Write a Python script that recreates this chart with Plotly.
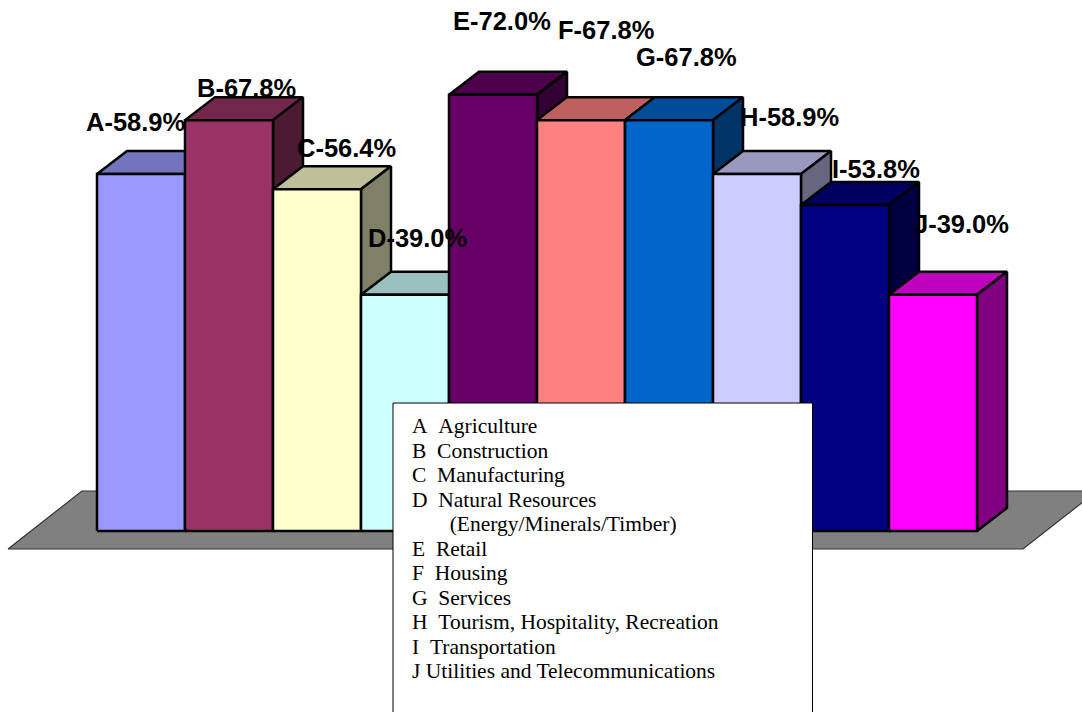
import plotly.graph_objects as go

# ---- data ----
categories = ["A", "B", "C", "D", "E", "F", "G", "H", "I", "J"]
values = [58.9, 67.8, 56.4, 39.0, 72.0, 67.8, 67.8, 58.9, 53.8, 39.0]
key_lines = [
    "A\u00a0\u00a0Agriculture",
    "B\u00a0\u00a0Construction",
    "C\u00a0\u00a0Manufacturing",
    "D\u00a0\u00a0Natural Resources",
    "\u00a0\u00a0\u00a0\u00a0\u00a0\u00a0\u00a0(Energy/Minerals/Timber)",
    "E\u00a0\u00a0Retail",
    "F\u00a0\u00a0Housing",
    "G\u00a0\u00a0Services",
    "H\u00a0\u00a0Tourism, Hospitality, Recreation",
    "I\u00a0\u00a0Transportation",
    "J Utilities and Telecommunications",
]

# ---- style ----
W, H = 1082, 712
colors = ["#9999FF", "#993366", "#FFFFCC", "#CCFFFF", "#660066",
          "#FF8080", "#0066CC", "#CCCCFF", "#000080", "#FF00FF"]
label_dx = [-6, 17, 29, 12, 9, 25, 17, 32, 31, 28]
label_dy = [52, 32, 41, 57, 74, 90, 63, 57, 36, 71]
PX_PER_CAT = 88.0
PX_PER_PCT = 6.06
X0_PX = 141.0      # pixel of first category centre
Y0_PX = 531.0      # pixel of value 0
DEPTH_X = 30 / PX_PER_CAT
DEPTH_Y = 23 / PX_PER_PCT
HALF = 0.5


def shade(hex_color, f):
    r, g, b = (int(hex_color[i:i + 2], 16) for i in (1, 3, 5))
    return f"rgb({round(r * f)},{round(g * f)},{round(b * f)})"


fig = go.Figure()


def face(xs, ys, fill, width=2.5, name=None, line="#000000"):
    fig.add_trace(go.Scatter(
        x=xs + xs[:1], y=ys + ys[:1], mode="lines", fill="toself",
        fillcolor=fill, line=dict(color=line, width=width),
        hoverinfo="skip", showlegend=False, name=name))


# floor
face([-1.511, 9.0 + 1.0227, 9.0 + 1.0227 + 0.84, -1.511 + 0.84],
     [-2.97, -2.97, 6.6, 6.6], "#808080", width=1.2, name="floor", line="#333333")

# bars, painted left to right so nearer neighbours hide hidden faces
for i, (cat, v, c) in enumerate(zip(categories, values, colors)):
    l, r = i - HALF, i + HALF
    face([l, r, r + DEPTH_X, l + DEPTH_X], [v, v, v + DEPTH_Y, v + DEPTH_Y],
         shade(c, 0.75), name=f"{cat} top")
    face([r, r + DEPTH_X, r + DEPTH_X, r], [0, DEPTH_Y, v + DEPTH_Y, v],
         shade(c, 0.5), name=f"{cat} side")
    face([l, r, r, l], [0, 0, v, v], c, name=cat)

annotations = []
for i, (cat, v) in enumerate(zip(categories, values)):
    annotations.append(dict(
        x=i, y=v, xref="x", yref="y", text=f"{cat}-{v:.1f}%", showarrow=False,
        xshift=label_dx[i], yshift=label_dy[i], xanchor="center", yanchor="middle",
        font=dict(family="Liberation Sans", size=25.5, color="#000000", weight="bold")))

for j, line in enumerate(key_lines):
    annotations.append(dict(
        x=412 / W, y=1 - (426 + 24.5 * j) / H, xref="paper", yref="paper", text=line,
        showarrow=False, xanchor="left", yanchor="middle", align="left", borderpad=0, borderwidth=0,
        font=dict(family="Liberation Serif", size=21.5, color="#000000")))

fig.update_layout(
    width=W, height=H, autosize=False,
    margin=dict(l=0, r=0, t=0, b=0),
    paper_bgcolor="#FFFFFF", plot_bgcolor="#FFFFFF", showlegend=False,
    xaxis=dict(range=[-X0_PX / PX_PER_CAT, (W - X0_PX) / PX_PER_CAT], visible=False),
    yaxis=dict(range=[-(H - Y0_PX) / PX_PER_PCT, Y0_PX / PX_PER_PCT], visible=False),
    shapes=[dict(type="rect", xref="paper", yref="paper", x0=393 / W, x1=812.5 / W,
                 y0=-0.05, y1=1 - 403 / H, fillcolor="#FFFFFF",
                 line=dict(color="#000000", width=1), layer="above")],
    annotations=annotations,
)
fig.write_html("out.html", config=dict(displayModeBar=False),
               post_script="document.body.style.margin='0';document.body.style.overflow='hidden';")
